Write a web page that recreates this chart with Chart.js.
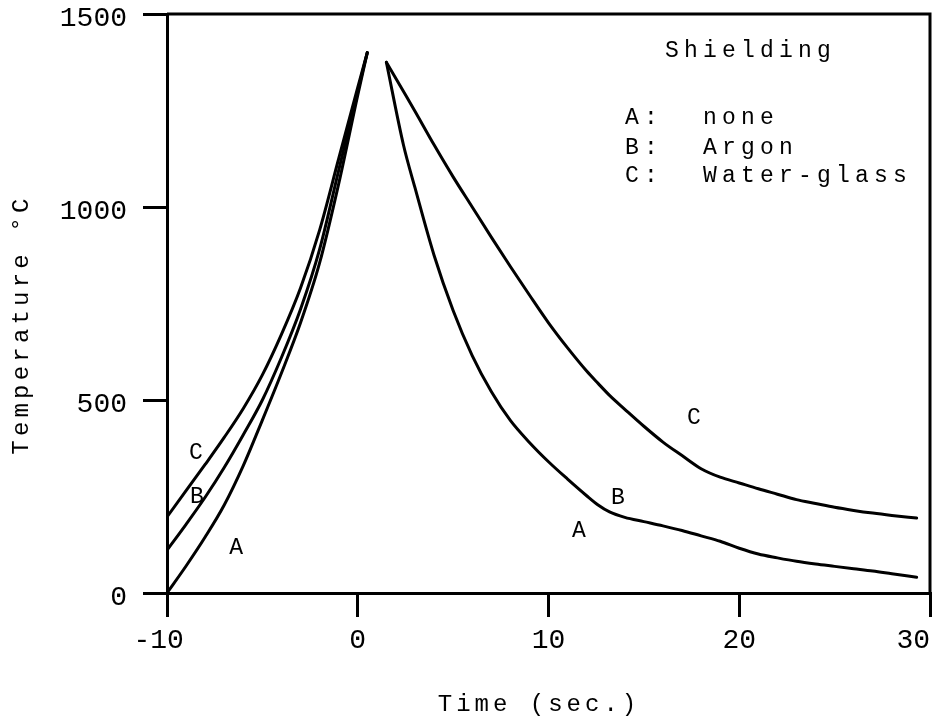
<!DOCTYPE html>
<html><head><meta charset="utf-8">
<script src="https://cdn.jsdelivr.net/npm/chart.js@4.4.1/dist/chart.umd.min.js"></script>
<style>html,body{margin:0;padding:0;background:#fff;}canvas{display:block;}</style>
</head><body>
<canvas id="c" width="938" height="719"></canvas>
<script>
// ---- data ----
const heatTime = [-10, -9, -8, -7, -6, -5, -4, -3, -2, -1, 0, 0.5];
const heatA = [0, 70, 145, 228, 330, 448, 570, 700, 855, 1060, 1290, 1400];
const heatB = [111, 178, 248, 325, 410, 500, 610, 735, 890, 1095, 1300, 1400];
const heatC = [197, 265, 333, 403, 478, 565, 670, 790, 940, 1125, 1310, 1400];

const coolTime = [1.5, 2.4, 3, 4, 5, 6, 7, 8, 9, 10, 11, 12, 12.6, 13.2, 14, 15, 16, 17, 18, 19, 20, 21, 22, 23, 24, 25, 26, 27, 28, 29.3];
const coolAB = [1375, 1160, 1050, 875, 732, 615, 522, 447, 390, 340, 295, 252, 228, 210, 196, 185, 174, 162, 148, 134, 116, 101, 91, 82, 75, 69, 63, 57, 50, 41];
const coolC = [1375, 1299, 1248, 1161, 1078, 1000, 922, 846, 772, 700, 635, 575, 543, 512, 476, 432, 391, 356, 322, 300, 285, 270, 256, 242, 232, 222, 214, 207, 201, 194];

const xTicks = [-10, 0, 10, 20, 30];
const xTickLabels = ['-10', '0', '10', '20', '30'];
const yTicks = [0, 500, 1000, 1500];
const yTickLabels = ['0', '500', '1000', '1500'];
const xTitle = 'Time (sec.)';
const yTitle = 'Temperature \u00B0C';

const curveLabelText = ['C', 'B', 'A', 'C', 'B', 'A'];
const curveLabelTime = [-8.48, -8.43, -6.38, 17.62, 13.64, 11.59];
const curveLabelTemp = [363, 249, 117, 453, 246, 160];

const legendTitle = 'Shielding';
const legendKeys = ['A:', 'B:', 'C:'];
const legendNames = ['none', 'Argon', 'Water-glass'];

// ---- chart ----
const FONT = '"Liberation Mono", "DejaVu Sans Mono", monospace';
Chart.defaults.font.family = FONT;
Chart.defaults.color = '#000';

function pts(ts, vs) { return ts.map((t, i) => ({ x: t, y: vs[i] })); }
const lineStyle = { borderColor: '#000', borderWidth: 3, pointRadius: 0, fill: false,
  cubicInterpolationMode: 'monotone', borderCapStyle: 'round', borderJoinStyle: 'round' };

const titleTweak = {
  id: 'titleTweak',
  beforeDraw(chart) {
    const cfg = { x: { sp: '4px', dx: -9.5, dy: 0 }, y: { sp: '4.2px', dx: 0, dy: 21 } };
    for (const id of ['x', 'y']) {
      const sc = chart.scales[id];
      const proto = Object.getPrototypeOf(sc);
      const c = cfg[id];
      sc.drawTitle = function () {
        const ctx = this.ctx;
        ctx.save();
        ctx.letterSpacing = c.sp;
        ctx.translate(c.dx, c.dy);
        proto.drawTitle.call(this);
        ctx.restore();
      };
    }
  }
};

const decor = {
  id: 'decor',
  afterDraw(chart) {
    const { ctx, chartArea: a, scales: { x, y } } = chart;
    ctx.save();
    // frame top and right
    ctx.strokeStyle = '#000';
    ctx.lineWidth = 3;
    ctx.beginPath();
    ctx.moveTo(a.left, a.top);
    ctx.lineTo(a.right, a.top);
    ctx.lineTo(a.right, a.bottom);
    ctx.stroke();
    // curve labels
    ctx.fillStyle = '#000';
    ctx.font = '23px ' + FONT;
    ctx.textAlign = 'center';
    ctx.textBaseline = 'middle';
    curveLabelText.forEach((s, i) => {
      ctx.fillText(s, x.getPixelForValue(curveLabelTime[i]), y.getPixelForValue(curveLabelTemp[i]));
    });
    // legend text
    ctx.letterSpacing = '5.2px';
    ctx.textAlign = 'left';
    ctx.textBaseline = 'alphabetic';
    ctx.fillText(legendTitle, a.right - 265, a.top + 43);
    const base = [110, 140, 168];
    legendKeys.forEach((k, i) => {
      ctx.fillText(k, a.right - 305, a.top + base[i]);
      ctx.fillText(legendNames[i], a.right - 227, a.top + base[i]);
    });
    ctx.restore();
  }
};

new Chart(document.getElementById('c'), {
  type: 'line',
  data: {
    datasets: [
      Object.assign({ label: 'A heating', data: pts(heatTime, heatA) }, lineStyle),
      Object.assign({ label: 'B heating', data: pts(heatTime, heatB) }, lineStyle),
      Object.assign({ label: 'C heating', data: pts(heatTime, heatC) }, lineStyle),
      Object.assign({ label: 'A/B cooling', data: pts(coolTime, coolAB) }, lineStyle),
      Object.assign({ label: 'C cooling', data: pts(coolTime, coolC) }, lineStyle)
    ]
  },
  options: {
    responsive: false,
    animation: false,
    layout: { padding: { left: 0, right: 8, top: 14, bottom: 0 } },
    plugins: { legend: { display: false }, tooltip: { enabled: false } },
    scales: {
      x: {
        type: 'linear', min: -10, max: 30,
        afterBuildTicks(s) { s.ticks = xTicks.map(v => ({ value: v })); },
        afterFit(s) { s.height = 126; s.paddingLeft = 0; s.paddingRight = 0; },
        grid: { drawOnChartArea: false, drawTicks: true, tickLength: 24, lineWidth: 3, tickWidth: 3, color: '#000', tickColor: '#000' },
        border: { display: true, color: '#000', width: 3 },
        ticks: {
          font: { size: 28 }, color: '#000', padding: 7, maxRotation: 0, autoSkip: false,
          callback(v) {
            const i = xTicks.indexOf(v);
            const s = xTickLabels[i];
            if (i === 0) return s + ' ';
            if (i === xTicks.length - 1) return s + '  ';
            return s;
          }
        },
        title: { display: true, text: xTitle, font: { size: 24 }, color: '#000', padding: { top: 0, bottom: 0 } }
      },
      y: {
        type: 'linear', min: 0, max: 1500,
        afterBuildTicks(s) { s.ticks = yTicks.map(v => ({ value: v })); },
        afterFit(s) { s.width = 167; s.paddingTop = 0; s.paddingBottom = 0; },
        grid: { drawOnChartArea: false, drawTicks: true, tickLength: 24, lineWidth: 3, tickWidth: 3, color: '#000', tickColor: '#000' },
        border: { display: true, color: '#000', width: 3 },
        ticks: {
          font: { size: 28 }, color: '#000', padding: 16, labelOffset: 5, autoSkip: false,
          callback(v) { return yTickLabels[yTicks.indexOf(v)]; }
        },
        title: { display: true, text: yTitle, font: { size: 24 }, color: '#000', padding: { top: 7, bottom: 0 } }
      }
    }
  },
  plugins: [titleTweak, decor]
});
</script>
</body></html>
